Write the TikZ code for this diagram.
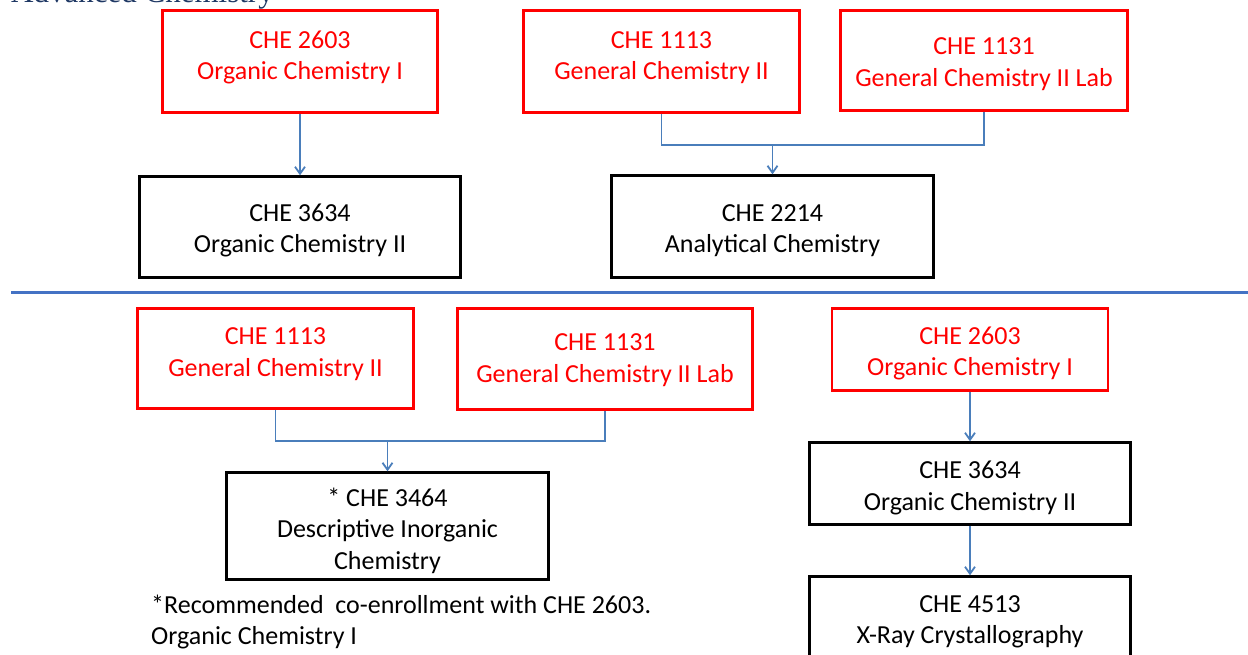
\documentclass[tikz,border=0pt]{standalone}
\usepackage{fontspec}
\setmainfont{Carlito}
\newfontfamily\titlefont{Liberation Serif}
\usetikzlibrary{arrows.meta}
\definecolor{cred}{RGB}{255,0,0}
\definecolor{cblue}{RGB}{74,126,187}
\definecolor{sepblue}{RGB}{68,114,196}
\definecolor{titleblue}{RGB}{31,56,100}
\tikzset{
  redbox/.style={draw=cred, line width=2.6pt, rectangle, inner sep=0pt},
  blackbox/.style={draw=black, line width=2.4pt, rectangle, inner sep=0pt},
  boxtext/.style={align=center, inner sep=0pt, font=\fontsize{26}{31.5}\selectfont, yshift=-1.5pt},
  redtext/.style={boxtext, text=cred},
  blacktext/.style={boxtext, text=black},
  conn/.style={draw=cblue, line width=1.8pt},
  arr/.style={conn, -{Straight Barb[length=7pt,width=10pt,line width=1.8pt]}},
}
\begin{document}
\begin{tikzpicture}[x=1pt,y=-1pt]
\useasboundingbox (0,0) rectangle (1248,655);
% title (cut at top)
\node[anchor=base west, inner sep=0pt, text=titleblue, font=\titlefont\fontsize{31}{36}\selectfont] (title) at (11,2.5) {Advanced Chemistry};
% top section
\node[redbox, minimum width=275pt, minimum height=102pt] (A) at (300,61.5) {};
\node[redtext] (At) at (300,56.2) {\strut CHE 2603\\\strut Organic Chemistry I};
\node[redbox, minimum width=276pt, minimum height=102pt] (B) at (661.5,61.5) {};
\node[redtext] (Bt) at (661.5,56) {\strut CHE 1113\\\strut General Chemistry II};
\node[redbox, minimum width=287pt, minimum height=100pt] (C) at (984,60.5) {};
\node[redtext] (Ct) at (984,62.5) {\strut CHE 1131\\\strut General Chemistry II Lab};
\node[blackbox, minimum width=321pt, minimum height=101pt] (D) at (300,227) {};
\node[blacktext] (Dt) at (300,229.2) {\strut CHE 3634\\\strut Organic Chemistry II};
\node[blackbox, minimum width=322pt, minimum height=102pt] (E) at (772.5,226.5) {};
\node[blacktext] (Et) at (772.5,229.2) {\strut CHE 2214\\\strut Analytical Chemistry};
\coordinate (j1) at (772.5,145);
\draw[arr] (A.south) -- (D.north);
\draw[conn] (B.south) |- (j1);
\draw[conn] (C.south) |- (j1);
\draw[arr] (j1) -- (E.north);
% separator
\coordinate (s1) at (11,292.5);
\coordinate (s2) at (1248,292.5);
\draw[draw=sepblue, line width=3.6pt] (s1) -- (s2);
% bottom section
\node[redbox, minimum width=276pt, minimum height=100pt] (F) at (275.5,358.5) {};
\node[redtext] (Ft) at (275.5,352.6) {\strut CHE 1113\\\strut General Chemistry II};
\node[redbox, minimum width=295pt, minimum height=101pt] (G) at (605,359) {};
\node[redtext] (Gt) at (605,358.6) {\strut CHE 1131\\\strut General Chemistry II Lab};
\node[redbox, minimum width=276pt, minimum height=82pt] (H) at (970,349.5) {};
\node[redtext] (Ht) at (970,352.2) {\strut CHE 2603\\\strut Organic Chemistry I};
\node[blackbox, minimum width=322pt, minimum height=107pt] (I) at (387.5,526) {};
\node[blacktext] (It) at (387.5,530) {\strut * CHE 3464\\\strut Descriptive Inorganic\\\strut Chemistry};
\node[blackbox, minimum width=321pt, minimum height=82pt] (J) at (970,483.5) {};
\node[blacktext] (Jt) at (970,486.6) {\strut CHE 3634\\\strut Organic Chemistry II};
\node[blackbox, minimum width=321pt, minimum height=82pt] (K) at (970,617.5) {};
\node[blacktext] (Kt) at (970,620.2) {\strut CHE 4513\\\strut X-Ray Crystallography};
\coordinate (j2) at (387.5,441);
\draw[conn] (F.south) |- (j2);
\draw[conn] (G.south) |- (j2);
\draw[arr] (j2) -- (I.north);
\draw[arr] (H.south) -- (J.north);
\draw[arr] (J.south) -- (K.north);
\node[anchor=west, align=left, inner sep=0pt, font=\fontsize{26}{31}\selectfont] (note) at (151,622.3) {\strut *Recommended\ \ co-enrollment with CHE 2603.\\\strut Organic Chemistry I};
\end{tikzpicture}
\end{document}
